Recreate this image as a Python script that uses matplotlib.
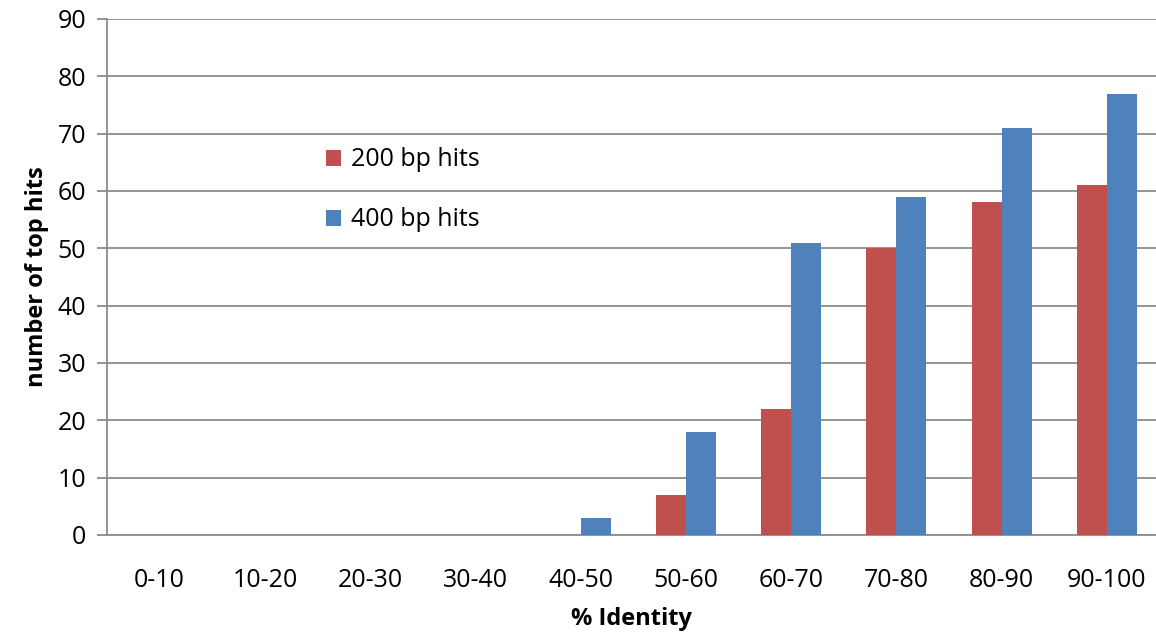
import numpy as np
import matplotlib
matplotlib.use("Agg")
import matplotlib.pyplot as plt

plt.rcParams['font.family'] = ['Open Sans', 'DejaVu Sans']

categories = ['0-10', '10-20', '20-30', '30-40', '40-50',
              '50-60', '60-70', '70-80', '80-90', '90-100']
hits_200 = [0, 0, 0, 0, 0, 7, 22, 50, 58, 61]
hits_400 = [0, 0, 0, 0, 3, 18, 51, 59, 71, 77]

red = '#C0504D'
blue = '#4F81BD'
grid_col = '#8C8C8C'

fig = plt.figure(figsize=(11.56, 6.34), dpi=100)
ax = fig.add_axes([107 / 1156, 1 - 535 / 634, 1049 / 1156, (535 - 19) / 634])

x = np.arange(len(categories))
w = 0.285
ax.bar(x - w / 2, hits_200, w, color=red, label='200 bp hits', zorder=3)
ax.bar(x + w / 2, hits_400, w, color=blue, label='400 bp hits', zorder=3)

ax.set_xlim(-0.5, 9.467)
ax.set_ylim(0, 90)
ax.set_yticks(range(0, 91, 10))
ax.set_xticks(x)
ax.set_xticklabels(categories)
ax.yaxis.grid(True, color=grid_col, linewidth=1.3, zorder=0)
ax.set_axisbelow(True)

for s in ['top', 'right']:
    ax.spines[s].set_visible(False)
ax.spines['left'].set_color(grid_col)
ax.spines['left'].set_linewidth(1.3)
ax.spines['bottom'].set_color(grid_col)
ax.spines['bottom'].set_linewidth(1.3)

ax.tick_params(axis='y', length=7, color=grid_col, width=1.3, labelsize=18, pad=8)
ax.tick_params(axis='x', length=0, labelsize=18, pad=24)

ax.set_ylabel('number of top hits', fontsize=17, fontweight='bold', labelpad=6)
ax.set_xlabel('% Identity', fontsize=17, fontweight='bold', labelpad=10)

ax.legend(loc='center left', bbox_to_anchor=(303 / 1156, 1 - 190 / 634),
          bbox_transform=fig.transFigure, frameon=False,
          fontsize=18, handlelength=0.62, handleheight=0.62,
          handletextpad=0.4, labelspacing=1.4)

fig.savefig('out.png', dpi=100)
